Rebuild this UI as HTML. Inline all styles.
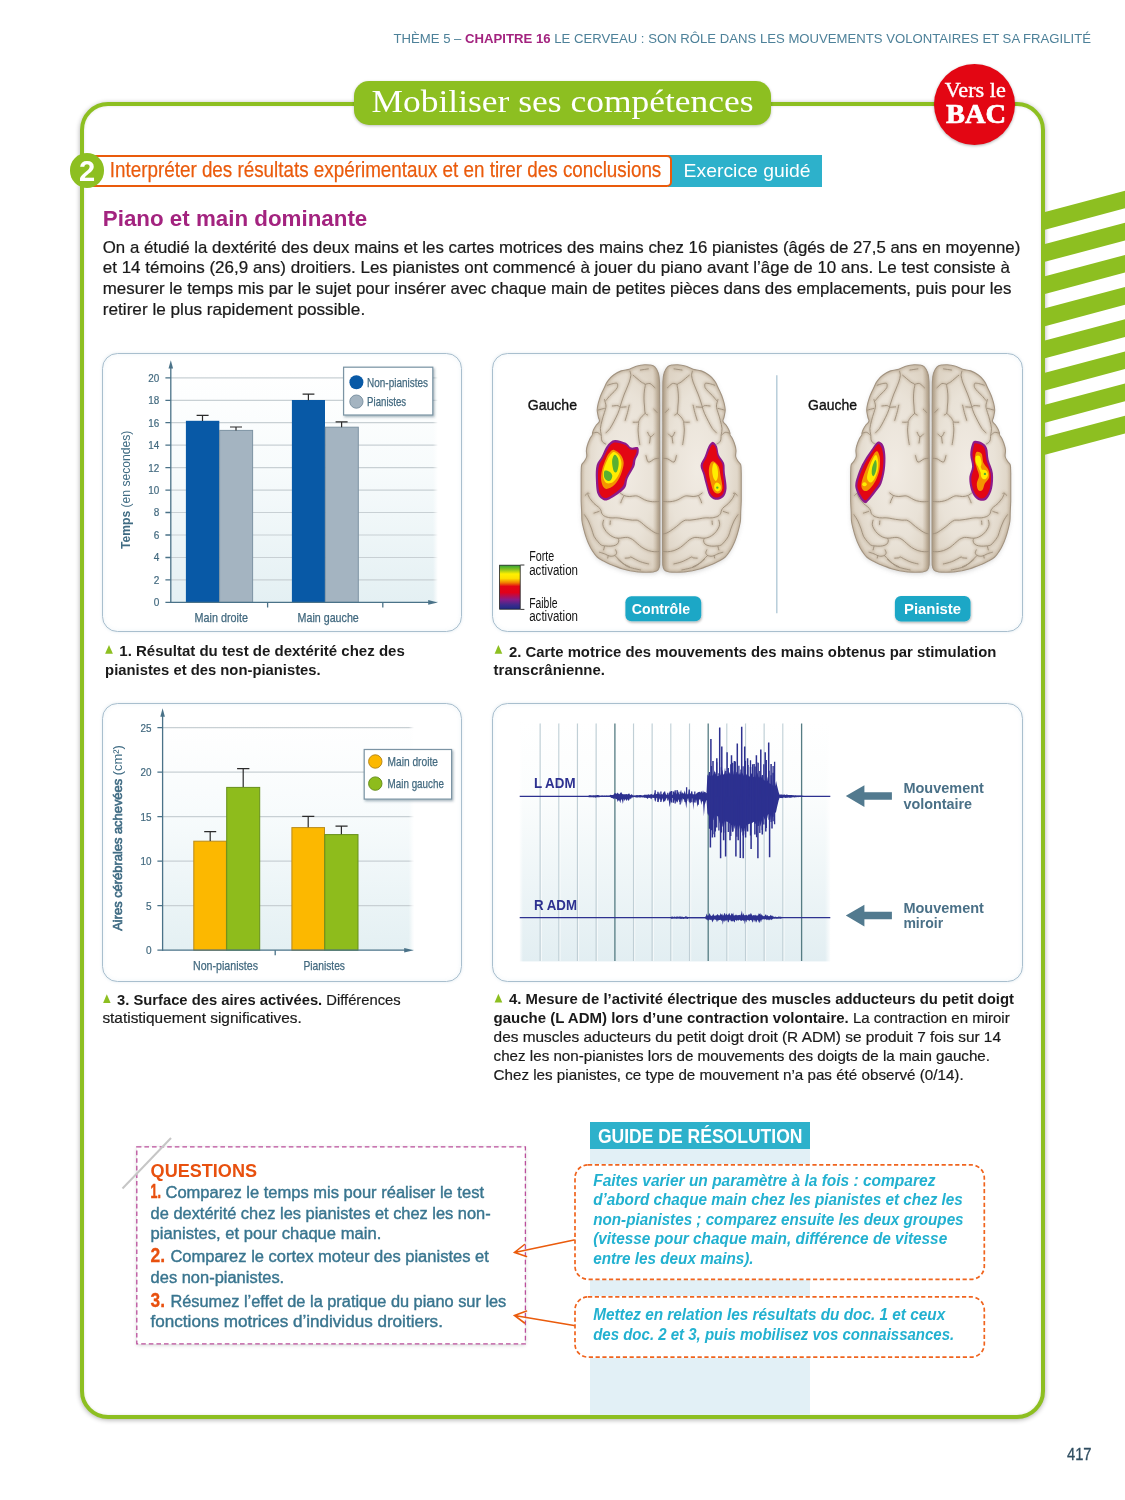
<!DOCTYPE html>
<html lang="fr">
<head>
<meta charset="utf-8">
<title>Mobiliser ses compétences – Piano et main dominante</title>
<style>
html,body{margin:0;padding:0;background:#fff;}
body{width:1125px;height:1500px;overflow:hidden;position:relative;font-family:"Liberation Sans",sans-serif;}
.abs{position:absolute;}
#frame{left:80.2px;top:102.2px;width:956.8px;height:1308.8px;border:4px solid #8dbf21;border-radius:28px;box-shadow:0 1px 5px rgba(0,0,0,.32), inset 0 0 3px rgba(0,0,0,.12);background:#fff;}
.doc{border:1.4px solid #a9bfce;border-radius:15.5px;background:#fff;box-shadow:0 0 3px rgba(120,160,185,.22), inset 0 0 4px rgba(150,190,210,.18);box-sizing:border-box;}
#tab{left:353.5px;top:80.5px;width:417.8px;height:44px;background:#8dbf21;border-radius:15px;box-shadow:0 1px 3px rgba(0,0,0,.25);}
#bac{left:934px;top:64px;width:81px;height:81px;border-radius:50%;background:#e30613;box-shadow:0 1px 3px rgba(0,0,0,.3);}
#obox{left:86px;top:154.6px;width:581.5px;height:28.8px;border:2px solid #ea5b0c;border-radius:5px;background:#fff;}
#tbox{left:668px;top:155px;width:154.3px;height:31.6px;background:#2db1cb;}
#two{left:69.9px;top:153.3px;width:34.6px;height:34.6px;border-radius:50%;background:#8dbf21;}
#qbox{left:136.8px;top:1146.8px;width:388.6px;height:197px;box-shadow:0 1px 4px rgba(0,0,0,.2);background:#fff;box-sizing:border-box;}
#gtitle{left:590px;top:1121.6px;width:220.3px;height:27.5px;background:#2db1cb;}
#gcol{left:590px;top:1149px;width:220.3px;height:266px;background:#e2f0f6;}
.gb{left:574.3px;width:410.6px;border-radius:13px;background:#fff;box-sizing:border-box;}
svg text{font-family:"Liberation Sans",sans-serif;}
svg .serif{font-family:"Liberation Serif",serif;}
</style>
</head>
<body>
<div id="frame" class="abs"></div>
<svg class="abs" style="left:1040px;top:180px" width="85" height="290" viewBox="1040 180 85 290">
<g fill="#8dbf21">
<polygon points="1044,212.2 1125,190.7 1125,208.3 1044,230.0"/>
<polygon points="1044,244.3 1125,222.8 1125,240.4 1044,262.1"/>
<polygon points="1044,276.5 1125,255.0 1125,272.6 1044,294.3"/>
<polygon points="1044,308.6 1125,287.1 1125,304.8 1044,326.4"/>
<polygon points="1044,340.8 1125,319.3 1125,336.9 1044,358.6"/>
<polygon points="1044,372.9 1125,351.4 1125,369.1 1044,390.8"/>
<polygon points="1044,405.1 1125,383.6 1125,401.2 1044,422.9"/>
<polygon points="1044,437.2 1125,415.8 1125,433.4 1044,455.1"/>
</g>
</svg>
<div id="tab" class="abs"></div>
<div id="bac" class="abs"></div>
<div id="tbox" class="abs"></div>
<div id="obox" class="abs"></div>
<div id="two" class="abs"></div>
<div class="abs doc" style="left:102px;top:353.3px;width:360px;height:279px"></div>
<div class="abs doc" style="left:492.4px;top:353.3px;width:531px;height:279px"></div>
<div class="abs doc" style="left:102px;top:703.3px;width:360px;height:278.5px"></div>
<div class="abs doc" style="left:492.4px;top:703.3px;width:531px;height:278.5px"></div>
<div id="gcol" class="abs" style="height:265.5px"></div>
<div id="gtitle" class="abs"></div>
<div class="abs gb" style="top:1164.2px;height:115.6px"></div>
<div class="abs gb" style="top:1296.2px;height:61.4px"></div>
<div id="qbox" class="abs"></div>
<svg class="abs" style="left:0;top:0;opacity:.999" width="1125" height="1500" viewBox="0 0 1125 1500">
<!-- running header -->
<text x="393.5" y="43.2" font-size="13.6" fill="#4d8199" textLength="697.5" lengthAdjust="spacingAndGlyphs">THÈME 5 – <tspan font-weight="bold" fill="#a3237f">CHAPITRE 16</tspan> LE CERVEAU : SON RÔLE DANS LES MOUVEMENTS VOLONTAIRES ET SA FRAGILITÉ</text>
<!-- title tab -->
<text class="serif" x="371.5" y="111.9" font-size="30.5" fill="#fff" textLength="382" lengthAdjust="spacingAndGlyphs">Mobiliser ses compétences</text>
<!-- BAC -->
<text class="serif" x="944.8" y="96.9" font-size="20" fill="#fff" stroke="#fff" stroke-width=".35" textLength="61" lengthAdjust="spacingAndGlyphs">Vers le</text>
<text class="serif" x="946" y="123" font-size="27.5" font-weight="bold" fill="#fff" stroke="#fff" stroke-width=".7" textLength="60" lengthAdjust="spacingAndGlyphs">BAC</text>
<!-- section -->
<text x="78.9" y="181.4" font-size="29" font-weight="bold" fill="#fff" textLength="16.2" lengthAdjust="spacingAndGlyphs">2</text>
<text x="109.8" y="177.3" font-size="22.5" fill="#ea5b0c" stroke="#ea5b0c" stroke-width=".25" textLength="551.5" lengthAdjust="spacingAndGlyphs">Interpréter des résultats expérimentaux et en tirer des conclusions</text>
<text x="683.6" y="177.3" font-size="19" fill="#fff" textLength="127" lengthAdjust="spacingAndGlyphs">Exercice guidé</text>
<!-- title -->
<text x="102.8" y="225.7" font-size="22" font-weight="bold" fill="#a3237f" textLength="264.5" lengthAdjust="spacingAndGlyphs">Piano et main dominante</text>
<!-- intro -->
<g font-size="16.4" fill="#1a1a1a" stroke="#1a1a1a" stroke-width=".22">
<text x="102.8" y="252.6" textLength="917.5" lengthAdjust="spacingAndGlyphs">On a étudié la dextérité des deux mains et les cartes motrices des mains chez 16 pianistes (âgés de 27,5 ans en moyenne)</text>
<text x="102.8" y="273.1" textLength="907.2" lengthAdjust="spacingAndGlyphs">et 14 témoins (26,9 ans) droitiers. Les pianistes ont commencé à jouer du piano avant l’âge de 10 ans. Le test consiste à</text>
<text x="102.8" y="293.6" textLength="908.6" lengthAdjust="spacingAndGlyphs">mesurer le temps mis par le sujet pour insérer avec chaque main de petites pièces dans des emplacements, puis pour les</text>
<text x="102.8" y="314.5" textLength="262.4" lengthAdjust="spacingAndGlyphs">retirer le plus rapidement possible.</text>
</g>
<!-- captions -->
<g fill="#8dbf21">
<polygon points="105.1,653.8 112.9,653.8 109,645"/>
<polygon points="494.6,653.8 502.3,653.8 498.4,645"/>
<polygon points="103.1,1003 110.6,1003 106.8,994.2"/>
<polygon points="494.6,1002.6 502.3,1002.6 498.4,993.8"/>
</g>
<g font-size="15" fill="#1a1a1a" font-weight="bold">
<text x="119.3" y="655.9" textLength="285.5" lengthAdjust="spacingAndGlyphs">1. Résultat du test de dextérité chez des</text>
<text x="105.1" y="674.9" textLength="215.6" lengthAdjust="spacingAndGlyphs">pianistes et des non-pianistes.</text>
<text x="509" y="656.6" textLength="487.3" lengthAdjust="spacingAndGlyphs">2. Carte motrice des mouvements des mains obtenus par stimulation</text>
<text x="493.6" y="674.8" textLength="111.4" lengthAdjust="spacingAndGlyphs">transcrânienne.</text>
<text x="117" y="1004.6" textLength="283.7" lengthAdjust="spacingAndGlyphs">3. Surface des aires activées. <tspan font-weight="normal" stroke="#1a1a1a" stroke-width=".2">Différences</tspan></text>
<text x="102.4" y="1023.2" font-weight="normal" stroke="#1a1a1a" stroke-width=".2" textLength="199.4" lengthAdjust="spacingAndGlyphs">statistiquement significatives.</text>
<text x="509" y="1004.2" textLength="505" lengthAdjust="spacingAndGlyphs">4. Mesure de l’activité électrique des muscles adducteurs du petit doigt</text>
<text x="493.6" y="1023.4" textLength="516.1" lengthAdjust="spacingAndGlyphs">gauche (L ADM) lors d’une contraction volontaire. <tspan font-weight="normal" stroke="#1a1a1a" stroke-width=".2">La contraction en miroir</tspan></text>
<g font-weight="normal" stroke="#1a1a1a" stroke-width=".2">
<text x="493.6" y="1041.8" textLength="507.4" lengthAdjust="spacingAndGlyphs">des muscles aducteurs du petit doigt droit (R ADM) se produit 7 fois sur 14</text>
<text x="493.6" y="1060.9" textLength="496.4" lengthAdjust="spacingAndGlyphs">chez les non-pianistes lors de mouvements des doigts de la main gauche.</text>
<text x="493.6" y="1079.8" textLength="470" lengthAdjust="spacingAndGlyphs">Chez les pianistes, ce type de mouvement n’a pas été observé (0/14).</text>
</g>
</g>
<!-- dashed boxes -->
<rect x="136.8" y="1146.8" width="388.6" height="197" fill="none" stroke="#bb4f9c" stroke-width="1.3" stroke-dasharray="4.6 3"/>
<rect x="575" y="1164.9" width="409.3" height="114.4" rx="13" fill="none" stroke="#f0641e" stroke-width="1.7" stroke-dasharray="4.2 2.6"/>
<rect x="575" y="1296.9" width="409.3" height="60.2" rx="13" fill="none" stroke="#f0641e" stroke-width="1.7" stroke-dasharray="4.2 2.6"/>
<!-- questions -->
<line x1="122.5" y1="1188.5" x2="171" y2="1138" stroke="#c6c6c6" stroke-width="2"/>
<text x="150.6" y="1177" font-size="18.7" font-weight="bold" fill="#e8500e" textLength="106.4" lengthAdjust="spacingAndGlyphs">QUESTIONS</text>
<g font-size="16" fill="#39758f" stroke="#39758f" stroke-width=".4">
<text x="150.6" y="1198.3" font-size="19.5" font-weight="bold" fill="#e8500e" stroke="#e8500e" stroke-width=".55" textLength="10.4" lengthAdjust="spacingAndGlyphs">1.</text>
<text x="165.5" y="1198.3" textLength="318.5" lengthAdjust="spacingAndGlyphs">Comparez le temps mis pour réaliser le test</text>
<text x="150.6" y="1218.8" textLength="340.1" lengthAdjust="spacingAndGlyphs">de dextérité chez les pianistes et chez les non-</text>
<text x="150.6" y="1239" textLength="230.7" lengthAdjust="spacingAndGlyphs">pianistes, et pour chaque main.</text>
<text x="150.6" y="1262.4" font-size="19.5" font-weight="bold" fill="#e8500e" stroke="#e8500e" stroke-width=".3" textLength="14.6" lengthAdjust="spacingAndGlyphs">2.</text>
<text x="170.4" y="1262.4" textLength="318.4" lengthAdjust="spacingAndGlyphs">Comparez le cortex moteur des pianistes et</text>
<text x="150.6" y="1282.9" textLength="133.6" lengthAdjust="spacingAndGlyphs">des non-pianistes.</text>
<text x="150.6" y="1307.2" font-size="19.5" font-weight="bold" fill="#e8500e" stroke="#e8500e" stroke-width=".3" textLength="14.4" lengthAdjust="spacingAndGlyphs">3.</text>
<text x="170.4" y="1307.2" textLength="335.9" lengthAdjust="spacingAndGlyphs">Résumez l’effet de la pratique du piano sur les</text>
<text x="150.6" y="1327" textLength="292.3" lengthAdjust="spacingAndGlyphs">fonctions motrices d’individus droitiers.</text>
</g>
<!-- arrows -->
<g stroke="#ea5b0c" stroke-width="1.6" fill="none" stroke-linecap="round">
<path d="M574,1240 L514.5,1252.5 M524.5,1244.5 L514.5,1252.5 L526.5,1256.5"/>
<path d="M574,1325.5 L514.5,1315.5 M526.5,1311 L514.5,1315.5 L524.5,1323"/>
</g>
<!-- guide -->
<text x="597.9" y="1143.2" font-size="20" font-weight="bold" fill="#fff" textLength="204.6" lengthAdjust="spacingAndGlyphs">GUIDE DE RÉSOLUTION</text>
<g font-size="16" font-weight="bold" font-style="italic" fill="#22b1d0">
<text x="593.2" y="1185.5" textLength="342.2" lengthAdjust="spacingAndGlyphs">Faites varier un paramètre à la fois : comparez</text>
<text x="593.2" y="1205" textLength="369.6" lengthAdjust="spacingAndGlyphs">d’abord chaque main chez les pianistes et chez les</text>
<text x="593.2" y="1224.6" textLength="370.4" lengthAdjust="spacingAndGlyphs">non-pianistes ; comparez ensuite les deux groupes</text>
<text x="593.2" y="1244.1" textLength="354" lengthAdjust="spacingAndGlyphs">(vitesse pour chaque main, différence de vitesse</text>
<text x="593.2" y="1263.7" textLength="160.4" lengthAdjust="spacingAndGlyphs">entre les deux mains).</text>
<text x="593.2" y="1319.9" textLength="352" lengthAdjust="spacingAndGlyphs">Mettez en relation les résultats du doc. 1 et ceux</text>
<text x="593.2" y="1339.8" textLength="361" lengthAdjust="spacingAndGlyphs">des doc. 2 et 3, puis mobilisez vos connaissances.</text>
</g>
<!-- page number -->
<text x="1067" y="1459.5" font-size="16" fill="#2f4d60" stroke="#2f4d60" stroke-width=".3" textLength="24.5" lengthAdjust="spacingAndGlyphs">417</text>
</svg>
<svg class="abs" style="left:0;top:0;opacity:.999" width="1125" height="1500" viewBox="0 0 1125 1500">
<defs>
<linearGradient id="pbg" x1="0" y1="0" x2="0" y2="1"><stop offset="0" stop-color="#ffffff"/><stop offset=".42" stop-color="#f7fbfc"/><stop offset="1" stop-color="#e4f0f3"/></linearGradient>
<linearGradient id="fadeR" x1="0" y1="0" x2="1" y2="0"><stop offset="0" stop-color="#fff" stop-opacity="0"/><stop offset="1" stop-color="#fff" stop-opacity="1"/></linearGradient>
<filter id="lsh" x="-10%" y="-10%" width="130%" height="130%"><feDropShadow dx="1.2" dy="1.5" stdDeviation="1.1" flood-color="#3a5a70" flood-opacity=".45"/></filter>
</defs>
<!-- ===== DOC 1 : bar chart ===== -->
<g id="chart1">
<rect x="170.8" y="372" width="267" height="230.4" fill="url(#pbg)"/>
<g stroke="#c8d0d4" stroke-width="1.2">
<line x1="170.8" y1="377.8" x2="437.8" y2="377.8"/><line x1="170.8" y1="400.3" x2="437.8" y2="400.3"/>
<line x1="170.8" y1="422.7" x2="437.8" y2="422.7"/><line x1="170.8" y1="445.2" x2="437.8" y2="445.2"/>
<line x1="170.8" y1="467.6" x2="437.8" y2="467.6"/><line x1="170.8" y1="490.1" x2="437.8" y2="490.1"/>
<line x1="170.8" y1="512.5" x2="437.8" y2="512.5"/><line x1="170.8" y1="535" x2="437.8" y2="535"/>
<line x1="170.8" y1="557.5" x2="437.8" y2="557.5"/><line x1="170.8" y1="579.9" x2="437.8" y2="579.9"/>
</g>
<rect x="433" y="372" width="5" height="229" fill="url(#fadeR)"/>
<!-- bars -->
<rect x="185.9" y="420.8" width="33.4" height="181.6" fill="#0859a6"/>
<rect x="219.6" y="430.4" width="33" height="172" fill="#a4b4c1" stroke="#7d93a3" stroke-width="1"/>
<rect x="291.9" y="400" width="33.1" height="202.4" fill="#0859a6"/>
<rect x="325.3" y="427.2" width="33" height="175.2" fill="#a4b4c1" stroke="#7d93a3" stroke-width="1"/>
<!-- error bars -->
<g stroke="#2b2b2b" stroke-width="1.2" fill="none">
<path d="M196.6,415.4H208.6M202.5,415.4V421"/>
<path d="M230,427H242M236,427V430.5"/>
<path d="M302.6,394.1H314.4M308.4,394.1V400.2"/>
<path d="M335.6,421.8H347.6M341.6,421.8V427.3"/>
</g>
<!-- axes -->
<g stroke="#4a7288" stroke-width="1.3" fill="none">
<path d="M170.8,603V367"/>
<path d="M165.4,602.4H430"/>
<path d="M165.4,377.8H170.8M165.4,400.3H170.8M165.4,422.7H170.8M165.4,445.2H170.8M165.4,467.6H170.8M165.4,490.1H170.8M165.4,512.5H170.8M165.4,535H170.8M165.4,557.5H170.8M165.4,579.9H170.8"/>
<path d="M267.6,602.4V607.6M382.8,602.4V607.6"/>
</g>
<polygon points="170.8,360.3 168.5,368.6 173.1,368.6" fill="#4a7288"/>
<polygon points="437.8,602.4 428.2,600.1 428.2,604.7" fill="#4a7288"/>
<!-- tick labels -->
<g font-size="11" fill="#42697f" stroke="#42697f" stroke-width=".2" text-anchor="end">
<text x="159.3" y="381.7" textLength="11" lengthAdjust="spacingAndGlyphs">20</text>
<text x="159.3" y="404.2" textLength="11" lengthAdjust="spacingAndGlyphs">18</text>
<text x="159.3" y="426.6" textLength="11" lengthAdjust="spacingAndGlyphs">16</text>
<text x="159.3" y="449.1" textLength="11" lengthAdjust="spacingAndGlyphs">14</text>
<text x="159.3" y="471.5" textLength="11" lengthAdjust="spacingAndGlyphs">12</text>
<text x="159.3" y="494" textLength="11" lengthAdjust="spacingAndGlyphs">10</text>
<text x="159.3" y="516.4" textLength="5.6" lengthAdjust="spacingAndGlyphs">8</text>
<text x="159.3" y="538.9" textLength="5.6" lengthAdjust="spacingAndGlyphs">6</text>
<text x="159.3" y="561.4" textLength="5.6" lengthAdjust="spacingAndGlyphs">4</text>
<text x="159.3" y="583.8" textLength="5.6" lengthAdjust="spacingAndGlyphs">2</text>
<text x="159.3" y="606.3" textLength="5.6" lengthAdjust="spacingAndGlyphs">0</text>
</g>
<g font-size="12.6" fill="#42697f" stroke="#42697f" stroke-width=".25">
<text x="194.6" y="622.2" textLength="53.4" lengthAdjust="spacingAndGlyphs">Main droite</text>
<text x="297.6" y="622.2" textLength="61.2" lengthAdjust="spacingAndGlyphs">Main gauche</text>
</g>
<text transform="translate(130.4,549) rotate(-90)" font-size="13.6" fill="#3f6b83" textLength="118.3" lengthAdjust="spacingAndGlyphs"><tspan font-weight="bold">Temps</tspan> (en secondes)</text>
<!-- legend -->
<rect x="343.6" y="367.2" width="89.2" height="47.8" fill="#fff" stroke="#7b94a4" stroke-width="1.2" filter="url(#lsh)"/>
<circle cx="356.4" cy="382.2" r="7" fill="#0859a6"/>
<circle cx="356.4" cy="401.6" r="6.6" fill="#a4b4c1" stroke="#7d93a3" stroke-width="1"/>
<g font-size="12.4" fill="#42697f" stroke="#42697f" stroke-width=".25">
<text x="367.1" y="387" textLength="60.8" lengthAdjust="spacingAndGlyphs">Non-pianistes</text>
<text x="367.1" y="406" textLength="39.1" lengthAdjust="spacingAndGlyphs">Pianistes</text>
</g>
</g>
<!-- ===== DOC 3 : bar chart ===== -->
<g id="chart3">
<rect x="162.6" y="720" width="251" height="230.2" fill="url(#pbg)"/>
<g stroke="#c8d0d4" stroke-width="1.2">
<line x1="162.6" y1="727.6" x2="413.4" y2="727.6"/><line x1="162.6" y1="772.2" x2="413.4" y2="772.2"/>
<line x1="162.6" y1="816.7" x2="413.4" y2="816.7"/><line x1="162.6" y1="861.2" x2="413.4" y2="861.2"/>
<line x1="162.6" y1="905.7" x2="413.4" y2="905.7"/>
</g>
<rect x="408.8" y="720" width="5" height="229" fill="url(#fadeR)"/>
<rect x="193.8" y="841.2" width="32.6" height="109" fill="#fcb800" stroke="#b98a1a" stroke-width="1"/>
<rect x="226.7" y="787.4" width="33" height="162.8" fill="#8ebc1c" stroke="#67901a" stroke-width="1"/>
<rect x="291.9" y="827.6" width="32.6" height="122.6" fill="#fcb800" stroke="#b98a1a" stroke-width="1"/>
<rect x="324.8" y="834.6" width="33.2" height="115.6" fill="#8ebc1c" stroke="#67901a" stroke-width="1"/>
<g stroke="#2b2b2b" stroke-width="1.2" fill="none">
<path d="M204.2,831.6H216.2M210.2,831.6V841"/>
<path d="M237.1,768.6H249.4M243.2,768.6V787"/>
<path d="M302.2,816.3H314.3M308.2,816.3V827.3"/>
<path d="M335.5,826.1H347.6M341.4,826.1V834.3"/>
</g>
<g stroke="#4a7288" stroke-width="1.3" fill="none">
<path d="M162.6,950.8V715"/>
<path d="M157.4,950.2H406"/>
<path d="M157.4,727.6H162.6M157.4,772.2H162.6M157.4,816.7H162.6M157.4,861.2H162.6M157.4,905.7H162.6"/>
<path d="M275.2,950.2V955.2"/>
</g>
<polygon points="162.6,708.2 160.3,716.8 164.9,716.8" fill="#4a7288"/>
<polygon points="413.8,950.2 404.2,947.9 404.2,952.5" fill="#4a7288"/>
<g font-size="11.3" fill="#42697f" stroke="#42697f" stroke-width=".2" text-anchor="end">
<text x="151.6" y="731.5" textLength="11" lengthAdjust="spacingAndGlyphs">25</text>
<text x="151.6" y="776.1" textLength="11" lengthAdjust="spacingAndGlyphs">20</text>
<text x="151.6" y="820.6" textLength="11" lengthAdjust="spacingAndGlyphs">15</text>
<text x="151.6" y="865.1" textLength="11" lengthAdjust="spacingAndGlyphs">10</text>
<text x="151.6" y="909.6" textLength="5.6" lengthAdjust="spacingAndGlyphs">5</text>
<text x="151.6" y="954.1" textLength="5.6" lengthAdjust="spacingAndGlyphs">0</text>
</g>
<g font-size="12.6" fill="#42697f" stroke="#42697f" stroke-width=".25">
<text x="193" y="970" textLength="65" lengthAdjust="spacingAndGlyphs">Non-pianistes</text>
<text x="303.4" y="970" textLength="41.6" lengthAdjust="spacingAndGlyphs">Pianistes</text>
</g>
<text transform="translate(122.2,930.8) rotate(-90)" font-size="13.2" fill="#3f6b83" textLength="185.6" lengthAdjust="spacingAndGlyphs"><tspan stroke="#3f6b83" stroke-width=".6">Aires cérébrales achevées</tspan> (cm²)</text>
<rect x="364.2" y="749.5" width="87.4" height="49.6" fill="#fff" stroke="#7b94a4" stroke-width="1.2" filter="url(#lsh)"/>
<circle cx="375.3" cy="761.5" r="6.7" fill="#fcb800" stroke="#b98a1a" stroke-width="1"/>
<circle cx="375.3" cy="783.6" r="6.7" fill="#8ebc1c" stroke="#67901a" stroke-width="1"/>
<g font-size="13" fill="#42697f" stroke="#42697f" stroke-width=".25">
<text x="387.6" y="766.3" textLength="50.3" lengthAdjust="spacingAndGlyphs">Main droite</text>
<text x="387.6" y="788.2" textLength="56.3" lengthAdjust="spacingAndGlyphs">Main gauche</text>
</g>
</g>
<!-- ===== DOC 4 : EMG ===== -->
<g id="emg">
<defs><linearGradient id="ebg" x1="0" y1="0" x2="0" y2="1"><stop offset="0" stop-color="#fff"/><stop offset=".3" stop-color="#fbfdfd"/><stop offset="1" stop-color="#e2eef2"/></linearGradient><linearGradient id="fadeL" x1="0" y1="0" x2="1" y2="0"><stop offset="0" stop-color="#fff" stop-opacity="1"/><stop offset="1" stop-color="#fff" stop-opacity="0"/></linearGradient></defs>
<rect x="519.7" y="722.3" width="310.6" height="239.1" fill="url(#ebg)"/>
<rect x="825" y="722" width="6" height="240" fill="url(#fadeR)"/><rect x="519" y="722" width="4" height="240" fill="url(#fadeL)"/>
<path d="M540.2,723.5V961M558.9,723.5V961M577.5,723.5V961M596.2,723.5V961M633.6,723.5V961M652.2,723.5V961M670.9,723.5V961M689.6,723.5V961M726.9,723.5V961M745.6,723.5V961M764.2,723.5V961M782.9,723.5V961" stroke="#c0cfd6" stroke-width="1.3" fill="none"/>
<path d="M541.3,723.5V961M560.0,723.5V961M578.6,723.5V961M597.3,723.5V961M634.7,723.5V961M653.3,723.5V961M672.0,723.5V961M690.7,723.5V961M728.0,723.5V961M746.7,723.5V961M765.3,723.5V961M784.0,723.5V961" stroke="#fff" stroke-width=".9" stroke-opacity=".8" fill="none"/>
<path d="M614.9,723.5V961M708.2,723.5V961M801.6,723.5V961" stroke="#557c83" stroke-width="1.3" fill="none"/>
<path d="M519.7,796.3H830.3M519.7,917.7H830.3" stroke="#2d3190" stroke-width="1.3" fill="none"/>
<path d="M588.6,795.4 589.5,795.2 590.4,795.3 591.3,795.4 592.1,795.4 593.0,795.4 593.9,795.3 594.8,795.4 595.7,795.2 596.5,795.2 597.4,794.9 598.3,795.0 599.2,795.4 600.1,795.7 600.9,795.7 601.8,795.6 602.7,795.6 603.6,795.7 604.5,795.6 605.3,795.7 606.2,795.6 607.1,795.5 608.0,795.7 608.9,795.6 609.7,795.5 610.6,794.8 611.5,795.1 612.4,795.1 613.3,795.0 614.1,793.7 615.0,793.0 615.9,793.4 616.8,793.7 617.7,792.4 618.5,793.7 619.4,794.3 620.3,792.9 621.2,792.0 622.1,793.8 622.9,794.2 623.8,794.2 624.7,794.3 625.6,794.3 626.5,794.1 627.3,794.5 628.2,794.0 629.1,793.3 630.0,794.8 630.9,794.9 631.7,794.1 632.6,795.3 633.5,795.5 634.4,795.6 635.3,795.4 636.1,795.3 637.0,794.9 637.9,795.3 638.8,795.2 639.7,794.9 640.5,795.0 641.4,795.3 642.3,795.4 643.2,795.4 644.1,794.8 644.9,794.7 645.8,794.8 646.7,794.8 647.6,794.8 648.5,794.3 649.3,794.7 650.2,794.7 651.1,793.8 652.0,794.5 652.9,794.8 653.7,794.7 654.6,792.3 655.5,794.8 656.4,793.9 657.3,793.8 658.1,793.9 659.0,792.1 659.9,794.6 660.8,794.7 661.7,793.9 662.5,794.5 663.4,792.4 664.3,792.1 665.2,792.4 666.1,794.7 666.9,794.4 667.8,794.8 668.7,794.6 669.6,791.4 670.5,791.5 671.3,791.4 672.2,794.7 673.1,794.7 674.0,793.5 674.9,790.9 675.7,792.5 676.6,794.5 677.5,790.2 678.4,791.7 679.3,794.4 680.1,794.1 681.0,789.6 681.9,793.8 682.8,791.9 683.7,794.5 684.5,790.3 685.4,794.4 686.3,789.5 687.2,794.0 688.1,794.5 688.9,789.6 689.8,793.2 690.7,793.7 691.6,791.1 692.5,794.3 693.3,794.3 694.2,794.3 695.1,794.5 696.0,794.0 696.9,792.9 697.7,792.4 698.6,791.9 699.5,791.8 700.4,792.3 701.3,793.4 702.1,793.2 703.0,790.2 703.9,792.8 704.8,791.6 705.7,793.3 706.5,793.1 707.4,774.3 708.3,776.2 709.2,771.9 710.1,775.4 710.9,776.0 711.8,776.2 712.7,775.8 713.6,773.6 714.5,770.2 715.3,774.6 716.2,771.3 717.1,776.3 718.0,776.1 718.9,776.0 719.7,771.4 720.6,775.5 721.5,772.5 722.4,769.6 723.3,775.0 724.1,774.1 725.0,767.6 725.9,774.8 726.8,773.1 727.7,774.6 728.5,771.0 729.4,772.6 730.3,774.6 731.2,771.9 732.1,774.6 732.9,770.1 733.8,774.5 734.7,774.6 735.6,774.2 736.5,773.5 737.3,769.8 738.2,774.7 739.1,772.7 740.0,774.9 740.9,771.7 741.7,775.2 742.6,772.5 743.5,775.4 744.4,775.6 745.3,774.4 746.1,773.8 747.0,775.6 747.9,774.4 748.8,776.3 749.7,776.6 750.5,776.2 751.4,772.8 752.3,775.5 753.2,776.7 754.1,777.2 754.9,774.0 755.8,777.8 756.7,771.7 757.6,773.6 758.5,777.1 759.3,777.7 760.2,775.3 761.1,778.0 762.0,775.2 762.9,778.3 763.7,779.9 764.6,780.5 765.5,780.7 766.4,781.6 767.3,776.6 768.1,782.3 769.0,782.8 769.9,783.8 770.8,784.1 771.7,777.9 772.5,785.3 773.4,785.6 774.3,786.7 775.2,785.8 776.1,781.1 776.9,784.9 777.8,788.6 778.7,792.3 779.6,794.8 780.5,794.6 781.3,794.5 782.2,794.6 783.1,794.9 784.0,794.3 784.9,794.7 785.7,795.1 786.6,794.6 787.5,794.8 788.4,795.1 789.3,795.1 790.1,794.9 791.0,795.1 791.9,795.1 792.8,795.3 793.7,795.3 794.5,795.4 795.4,795.3 796.3,795.4 797.2,795.4 798.1,795.4 798.9,795.5 799.8,795.5 800.7,795.6 801.6,795.6 802.5,795.7 803.3,795.7 803.3,796.9 802.5,796.9 801.6,797.0 800.7,797.0 799.8,797.0 798.9,797.1 798.1,797.2 797.2,797.1 796.3,797.3 795.4,797.3 794.5,797.4 793.7,797.3 792.8,797.3 791.9,797.5 791.0,797.7 790.1,797.7 789.3,797.8 788.4,797.6 787.5,797.8 786.6,797.7 785.7,798.0 784.9,797.8 784.0,797.6 783.1,797.7 782.2,798.3 781.3,798.0 780.5,797.9 779.6,797.8 778.7,800.3 777.8,804.1 776.9,807.8 776.1,811.8 775.2,812.9 774.3,812.2 773.4,812.3 772.5,819.8 771.7,814.3 770.8,820.5 769.9,814.3 769.0,814.8 768.1,814.0 767.3,817.8 766.4,820.6 765.5,815.3 764.6,820.2 763.7,816.3 762.9,817.6 762.0,820.5 761.1,823.6 760.2,826.7 759.3,820.8 758.5,825.2 757.6,821.2 756.7,820.4 755.8,822.5 754.9,823.6 754.1,821.7 753.2,822.1 752.3,822.7 751.4,823.5 750.5,823.9 749.7,823.8 748.8,824.0 747.9,824.5 747.0,824.4 746.1,832.0 745.3,825.5 744.4,831.2 743.5,831.2 742.6,830.4 741.7,832.7 740.9,826.4 740.0,825.0 739.1,829.0 738.2,832.2 737.3,825.2 736.5,831.7 735.6,824.4 734.7,829.2 733.8,824.3 732.9,831.8 732.1,831.7 731.2,824.9 730.3,823.3 729.4,823.6 728.5,821.7 727.7,822.0 726.8,821.6 725.9,821.7 725.0,825.7 724.1,821.1 723.3,826.7 722.4,826.5 721.5,817.9 720.6,821.4 719.7,823.6 718.9,819.8 718.0,816.0 717.1,816.6 716.2,814.7 715.3,821.9 714.5,814.1 713.6,819.8 712.7,820.5 711.8,814.6 710.9,815.9 710.1,813.6 709.2,812.9 708.3,816.0 707.4,813.0 706.5,799.8 705.7,801.9 704.8,804.7 703.9,816.3 703.0,801.8 702.1,801.1 701.3,805.0 700.4,799.5 699.5,799.2 698.6,801.6 697.7,807.0 696.9,803.2 696.0,799.2 695.1,803.3 694.2,799.0 693.3,810.1 692.5,798.5 691.6,798.3 690.7,802.8 689.8,803.6 688.9,800.6 688.1,798.1 687.2,799.8 686.3,808.6 685.4,802.3 684.5,802.1 683.7,798.2 682.8,798.2 681.9,803.8 681.0,798.9 680.1,802.0 679.3,801.9 678.4,799.3 677.5,801.8 676.6,800.7 675.7,802.0 674.9,799.4 674.0,801.7 673.1,797.9 672.2,798.0 671.3,798.3 670.5,802.5 669.6,807.2 668.7,800.0 667.8,798.1 666.9,797.8 666.1,799.0 665.2,800.4 664.3,800.9 663.4,802.6 662.5,798.0 661.7,800.7 660.8,800.6 659.9,798.3 659.0,800.0 658.1,802.5 657.3,797.8 656.4,797.9 655.5,802.2 654.6,797.9 653.7,797.9 652.9,797.8 652.0,798.1 651.1,799.5 650.2,797.8 649.3,798.0 648.5,797.8 647.6,799.1 646.7,798.0 645.8,797.8 644.9,797.8 644.1,797.8 643.2,797.2 642.3,797.4 641.4,797.3 640.5,797.6 639.7,797.5 638.8,797.2 637.9,797.4 637.0,797.5 636.1,797.4 635.3,797.3 634.4,797.0 633.5,797.3 632.6,797.4 631.7,797.5 630.9,799.3 630.0,798.2 629.1,800.2 628.2,800.7 627.3,798.9 626.5,801.3 625.6,798.7 624.7,801.0 623.8,798.7 622.9,803.9 622.1,800.6 621.2,798.9 620.3,803.2 619.4,800.6 618.5,800.3 617.7,802.0 616.8,799.0 615.9,799.3 615.0,798.3 614.1,798.7 613.3,798.7 612.4,798.0 611.5,798.1 610.6,797.2 609.7,797.0 608.9,797.1 608.0,797.0 607.1,797.0 606.2,796.9 605.3,797.0 604.5,796.9 603.6,796.9 602.7,796.9 601.8,796.9 600.9,797.0 600.1,797.1 599.2,797.2 598.3,797.2 597.4,797.2 596.5,797.3 595.7,797.7 594.8,797.2 593.9,797.6 593.0,797.2 592.1,797.3 591.3,797.3 590.4,797.3 589.5,797.2 588.6,797.2Z" fill="#2d3190"/>
<path d="M670.8,916.8 671.5,916.8 672.2,916.5 673.0,916.7 673.7,916.9 674.4,916.6 675.2,916.7 675.9,917.0 676.6,916.6 677.4,916.6 678.1,916.8 678.8,916.8 679.6,916.4 680.3,916.3 681.0,917.0 681.8,916.5 682.5,916.8 683.2,916.9 684.0,916.9 684.7,916.9 685.4,916.3 686.2,916.5 686.9,916.4 687.6,916.9 688.4,917.1 689.1,917.1 689.8,917.1 690.6,917.1 691.3,917.1 692.0,917.1 692.8,917.1 693.5,917.1 694.2,917.1 695.0,917.1 695.7,917.1 696.4,917.1 697.2,917.1 697.9,917.1 698.6,917.1 699.4,917.1 700.1,917.1 700.8,917.1 701.6,917.1 702.3,917.1 703.0,917.1 703.8,917.1 704.5,917.1 705.2,917.1 706.0,915.7 706.7,913.4 707.4,915.4 708.2,915.7 708.9,914.8 709.6,913.0 710.4,915.1 711.1,915.9 711.8,915.8 712.6,915.3 713.3,913.6 714.0,915.4 714.8,915.8 715.5,915.4 716.2,915.5 717.0,914.8 717.7,914.1 718.4,915.2 719.2,915.3 719.9,915.6 720.6,912.9 721.4,915.0 722.1,913.5 722.8,915.5 723.6,915.2 724.3,913.0 725.0,913.5 725.8,915.6 726.5,913.3 727.2,914.7 728.0,915.3 728.7,913.7 729.4,912.9 730.2,915.6 730.9,914.9 731.6,913.1 732.4,914.5 733.1,912.4 733.8,915.6 734.6,915.5 735.3,914.5 736.0,915.6 736.8,914.5 737.5,915.6 738.2,914.9 739.0,915.3 739.7,914.7 740.4,915.4 741.2,913.6 741.9,910.6 742.6,915.5 743.4,912.9 744.1,915.4 744.8,915.0 745.6,915.2 746.3,914.4 747.0,915.5 747.8,915.4 748.5,914.4 749.2,913.9 750.0,915.0 750.7,912.9 751.4,913.7 752.2,915.5 752.9,915.4 753.6,915.0 754.4,915.5 755.1,914.4 755.8,915.6 756.6,915.5 757.3,915.6 758.0,915.6 758.8,913.3 759.5,914.2 760.2,913.1 761.0,915.6 761.7,914.1 762.4,915.5 763.2,916.0 763.9,916.2 764.6,916.1 765.4,914.6 766.1,914.6 766.8,916.0 767.6,915.1 768.3,916.2 769.0,916.0 769.8,916.2 770.5,914.8 771.2,916.0 772.0,915.2 772.7,916.2 773.4,916.6 774.2,916.7 774.9,916.9 775.6,916.6 776.4,916.9 777.1,916.9 777.8,917.0 778.6,916.6 779.3,916.6 780.0,916.9 780.8,916.6 781.5,917.1 782.2,917.1 782.2,918.3 781.5,918.3 780.8,918.8 780.0,918.5 779.3,918.4 778.6,918.6 777.8,918.7 777.1,918.5 776.4,918.7 775.6,918.6 774.9,918.5 774.2,918.8 773.4,918.5 772.7,919.2 772.0,919.2 771.2,920.3 770.5,919.2 769.8,919.4 769.0,920.6 768.3,919.5 767.6,919.5 766.8,920.3 766.1,919.2 765.4,919.2 764.6,919.4 763.9,919.2 763.2,919.3 762.4,919.4 761.7,919.8 761.0,922.6 760.2,920.0 759.5,923.0 758.8,922.2 758.0,920.2 757.3,919.8 756.6,922.8 755.8,920.2 755.1,922.6 754.4,920.2 753.6,919.8 752.9,922.7 752.2,921.5 751.4,919.9 750.7,920.0 750.0,919.9 749.2,921.4 748.5,919.9 747.8,920.2 747.0,919.8 746.3,922.5 745.6,919.9 744.8,924.2 744.1,919.8 743.4,921.3 742.6,919.9 741.9,920.4 741.2,921.0 740.4,920.4 739.7,919.8 739.0,919.9 738.2,920.8 737.5,919.8 736.8,921.2 736.0,919.9 735.3,920.0 734.6,922.5 733.8,921.6 733.1,920.6 732.4,921.6 731.6,921.3 730.9,921.2 730.2,919.8 729.4,919.9 728.7,922.1 728.0,922.5 727.2,919.8 726.5,920.4 725.8,921.3 725.0,919.8 724.3,922.0 723.6,920.3 722.8,924.8 722.1,919.9 721.4,920.9 720.6,919.8 719.9,920.0 719.2,920.1 718.4,920.5 717.7,920.2 717.0,922.2 716.2,919.9 715.5,919.8 714.8,919.5 714.0,919.5 713.3,920.6 712.6,922.4 711.8,920.6 711.1,919.5 710.4,919.9 709.6,919.7 708.9,919.6 708.2,921.0 707.4,919.8 706.7,919.5 706.0,919.5 705.2,918.3 704.5,918.3 703.8,918.3 703.0,918.3 702.3,918.3 701.6,918.3 700.8,918.3 700.1,918.3 699.4,918.3 698.6,918.3 697.9,918.3 697.2,918.3 696.4,918.3 695.7,918.3 695.0,918.3 694.2,918.3 693.5,918.3 692.8,918.3 692.0,918.3 691.3,918.3 690.6,918.3 689.8,918.3 689.1,918.3 688.4,918.3 687.6,919.0 686.9,918.8 686.2,918.6 685.4,918.5 684.7,918.6 684.0,918.7 683.2,919.1 682.5,918.5 681.8,919.1 681.0,918.6 680.3,919.1 679.6,918.5 678.8,918.5 678.1,918.6 677.4,918.5 676.6,918.8 675.9,918.5 675.2,918.4 674.4,918.5 673.7,918.5 673.0,918.4 672.2,918.7 671.5,918.8 670.8,918.5Z" fill="#2d3190"/>
<path d="M710.9,739.1V796.3M713.0,761.1V796.3M716.8,758.2V796.3M719.7,727.4V796.3M721.8,746.4V796.3M727.1,752.3V796.3M731.5,755.2V796.3M734.4,761.1V796.3M737.3,743.5V796.3M741.7,726.8V796.3M744.7,746.4V796.3M747.6,758.2V796.3M750.5,767.0V796.3M754.1,764.0V796.3M756.4,755.2V796.3M760.8,749.4V796.3M765.2,752.3V796.3M768.7,742.6V796.3M771.1,764.0V796.3M773.1,772.8V796.3M710.4,847.6V796.3M712.4,837.4V796.3M715.3,831.5V796.3M720.6,858.2V796.3M723.6,840.3V796.3M725.6,856.4V796.3M730.0,840.3V796.3M732.9,831.5V796.3M735.9,856.4V796.3M738.2,840.3V796.3M740.3,857.9V796.3M743.2,858.2V796.3M745.6,837.4V796.3M747.6,831.5V796.3M751.1,849.1V796.3M754.9,834.4V796.3M757.9,858.2V796.3M762.3,834.4V796.3M765.8,831.5V796.3M769.6,857.3V796.3M772.0,828.6V796.3M774.0,816.8V796.3" stroke="#2d3190" stroke-width="1.5" fill="none"/>
<path d="M709.5,771.9V828.7M711.4,766.0V830.2M712.9,775.6V834.3M714.7,772.0V837.3M716.7,762.3V827.4M718.9,773.3V830.4M721.4,767.3V832.4M723.7,774.7V832.8M725.8,770.9V818.9M728.3,768.1V832.0M730.8,764.2V835.9M732.7,762.8V826.8M735.3,761.6V820.2M736.9,772.3V836.7M738.9,765.7V824.0M741.0,769.5V825.0M743.1,766.3V835.5M745.4,760.8V834.6M748.0,764.9V821.4M750.5,760.2V835.6M752.6,764.2V822.3M755.1,766.5V823.7M756.6,762.0V837.2M758.2,762.8V826.1M759.8,771.0V833.0M762.3,775.1V830.0M763.8,764.2V824.6M766.3,759.9V827.9M769.0,770.8V819.8M771.1,775.3V822.1M773.1,765.9V821.3M774.6,761.8V824.3M655.2,790.3V800.4M657.9,791.7V801.9M660.9,791.4V802.0M664.6,791.4V801.2M667.8,792.7V800.6M671.6,791.0V802.5M673.4,791.6V802.8M675.2,790.3V803.4M677.1,790.1V802.2M680.2,791.7V804.4M683.5,793.8V799.2M686.6,787.2V800.9M689.3,789.6V801.7M691.8,791.6V802.3M694.8,791.6V802.5M698.2,793.7V804.7M701.4,791.4V801.1M704.9,791.9V800.8" stroke="#2d3190" stroke-width="1.3" fill="none"/>
</g>
<g id="emglabels">
<g font-size="14.5" font-weight="bold" fill="#2d3190">
<text x="534" y="788" textLength="41.5" lengthAdjust="spacingAndGlyphs">L ADM</text>
<text x="534" y="910.2" textLength="43" lengthAdjust="spacingAndGlyphs">R ADM</text>
</g>
<g fill="#527a8f">
<polygon points="845.8,795.9 864.4,785.2 864.4,792.3 891.9,792.3 891.9,799.8 864.4,799.8 864.4,807"/>
<polygon points="845.8,915.4 864.4,904.7 864.4,911.8 891.9,911.8 891.9,919.3 864.4,919.3 864.4,926.5"/>
</g>
<g font-size="14" font-weight="bold" fill="#4a7087">
<text x="903.4" y="793.2" textLength="80.5" lengthAdjust="spacingAndGlyphs">Mouvement</text>
<text x="903.4" y="808.5" textLength="68.7" lengthAdjust="spacingAndGlyphs">volontaire</text>
<text x="903.4" y="912.7" textLength="80.5" lengthAdjust="spacingAndGlyphs">Mouvement</text>
<text x="903.4" y="928" textLength="39.8" lengthAdjust="spacingAndGlyphs">miroir</text>
</g>
</g>
<!-- ===== DOC 2 : brains ===== -->
<defs>
<radialGradient id="bg1" cx=".56" cy=".5" r=".66"><stop offset="0" stop-color="#f1ebe3"/><stop offset=".55" stop-color="#e9e2d7"/><stop offset="1" stop-color="#d8ccbb"/></radialGradient>
<linearGradient id="med" x1="0" y1="0" x2="1" y2="0"><stop offset="0" stop-color="#b9a891" stop-opacity="0"/><stop offset="1" stop-color="#ab9a83" stop-opacity=".95"/></linearGradient>
<filter id="bsh" x="-15%" y="-10%" width="130%" height="120%"><feGaussianBlur stdDeviation="16"/></filter>
<filter id="sbl" x="-5%" y="-5%" width="110%" height="110%"><feGaussianBlur stdDeviation="7"/></filter>
<clipPath id="hclip"><path d="M530,160C528,128 528,123 523,108C519,93 510,78 502,70C494,62 484,61 474,59C463,58 453,57 441,58C428,59 413,61 398,65C383,70 366,79 351,84C335,89 319,88 303,94C287,100 269,109 256,120C242,130 231,143 223,155C214,167 210,179 204,193C197,207 188,225 182,240C176,255 172,269 168,283C165,297 161,311 161,326C161,340 166,357 168,368C170,380 177,384 174,393C172,402 158,410 152,420C145,431 138,445 135,454C132,462 134,466 132,473C129,481 123,485 118,496C113,507 105,527 102,539C98,551 98,557 97,567C97,578 101,591 99,601C97,612 90,621 85,629C80,637 72,640 69,651C66,663 67,683 66,699C66,714 66,718 66,746C66,774 66,834 66,864C67,894 68,906 69,926C70,946 69,966 71,983C73,1000 77,1014 81,1030C85,1046 89,1062 95,1078C100,1093 107,1111 114,1125C120,1139 127,1151 135,1163C143,1175 150,1187 161,1196C172,1206 186,1213 199,1220C212,1227 224,1233 237,1239C250,1244 262,1248 275,1253C287,1258 299,1263 313,1267C326,1271 340,1274 355,1277C370,1279 387,1282 403,1284C418,1285 435,1286 450,1286C465,1286 481,1286 493,1284C505,1281 515,1279 521,1272C527,1265 529,1260 531,1243C532,1227 531,1224 532,1172C532,1121 532,1022 532,936C532,849 532,725 532,651C531,577 531,550 531,492C530,433 531,357 531,302C530,247 531,192 530,160Z"/></clipPath>
<g id="hemi">
<path d="M530,160C528,128 528,123 523,108C519,93 510,78 502,70C494,62 484,61 474,59C463,58 453,57 441,58C428,59 413,61 398,65C383,70 366,79 351,84C335,89 319,88 303,94C287,100 269,109 256,120C242,130 231,143 223,155C214,167 210,179 204,193C197,207 188,225 182,240C176,255 172,269 168,283C165,297 161,311 161,326C161,340 166,357 168,368C170,380 177,384 174,393C172,402 158,410 152,420C145,431 138,445 135,454C132,462 134,466 132,473C129,481 123,485 118,496C113,507 105,527 102,539C98,551 98,557 97,567C97,578 101,591 99,601C97,612 90,621 85,629C80,637 72,640 69,651C66,663 67,683 66,699C66,714 66,718 66,746C66,774 66,834 66,864C67,894 68,906 69,926C70,946 69,966 71,983C73,1000 77,1014 81,1030C85,1046 89,1062 95,1078C100,1093 107,1111 114,1125C120,1139 127,1151 135,1163C143,1175 150,1187 161,1196C172,1206 186,1213 199,1220C212,1227 224,1233 237,1239C250,1244 262,1248 275,1253C287,1258 299,1263 313,1267C326,1271 340,1274 355,1277C370,1279 387,1282 403,1284C418,1285 435,1286 450,1286C465,1286 481,1286 493,1284C505,1281 515,1279 521,1272C527,1265 529,1260 531,1243C532,1227 531,1224 532,1172C532,1121 532,1022 532,936C532,849 532,725 532,651C531,577 531,550 531,492C530,433 531,357 531,302C530,247 531,192 530,160Z" fill="#8e8e8e" opacity=".42" filter="url(#bsh)" transform="translate(5,9)"/>
<path d="M530,160C528,128 528,123 523,108C519,93 510,78 502,70C494,62 484,61 474,59C463,58 453,57 441,58C428,59 413,61 398,65C383,70 366,79 351,84C335,89 319,88 303,94C287,100 269,109 256,120C242,130 231,143 223,155C214,167 210,179 204,193C197,207 188,225 182,240C176,255 172,269 168,283C165,297 161,311 161,326C161,340 166,357 168,368C170,380 177,384 174,393C172,402 158,410 152,420C145,431 138,445 135,454C132,462 134,466 132,473C129,481 123,485 118,496C113,507 105,527 102,539C98,551 98,557 97,567C97,578 101,591 99,601C97,612 90,621 85,629C80,637 72,640 69,651C66,663 67,683 66,699C66,714 66,718 66,746C66,774 66,834 66,864C67,894 68,906 69,926C70,946 69,966 71,983C73,1000 77,1014 81,1030C85,1046 89,1062 95,1078C100,1093 107,1111 114,1125C120,1139 127,1151 135,1163C143,1175 150,1187 161,1196C172,1206 186,1213 199,1220C212,1227 224,1233 237,1239C250,1244 262,1248 275,1253C287,1258 299,1263 313,1267C326,1271 340,1274 355,1277C370,1279 387,1282 403,1284C418,1285 435,1286 450,1286C465,1286 481,1286 493,1284C505,1281 515,1279 521,1272C527,1265 529,1260 531,1243C532,1227 531,1224 532,1172C532,1121 532,1022 532,936C532,849 532,725 532,651C531,577 531,550 531,492C530,433 531,357 531,302C530,247 531,192 530,160Z" fill="url(#bg1)"/>
<g clip-path="url(#hclip)">
<path d="M355,96C356,100 361,111 360,122C359,133 355,146 351,160C346,174 338,191 332,207C325,223 318,239 313,255C307,270 303,287 298,302C294,317 291,330 284,345C278,360 268,377 261,392C253,407 245,423 237,435C229,446 217,456 213,461M374,120C382,126 410,151 422,160C433,169 442,166 445,174C448,182 442,194 441,207C439,221 438,239 438,255C438,270 439,287 441,302C442,317 442,336 445,345C449,353 458,353 460,355M445,174C450,173 464,166 474,169C483,173 498,190 503,194M223,179C228,177 246,171 256,169C265,168 276,165 280,169C283,173 283,185 280,193C276,201 268,209 261,217C253,225 245,232 237,240C229,249 217,264 213,269M204,264C205,270 213,289 213,302C213,315 208,326 204,340C200,354 193,371 190,387C186,403 181,420 180,435C179,449 183,460 185,473C186,485 185,501 190,510C194,520 207,524 211,527M251,302C257,302 276,298 284,300C292,301 291,308 298,309C306,310 326,307 332,307M351,297C349,304 345,325 341,340C337,355 329,379 327,387M374,398C379,398 396,399 403,397C409,394 409,387 412,383C415,378 416,374 422,368C427,362 441,349 445,346M407,397C407,405 403,428 403,444C403,460 406,477 407,492C409,506 412,524 413,530M460,458C462,463 470,483 476,484C482,486 494,471 497,468M476,484C475,490 472,515 471,521M166,326C172,324 197,318 204,316M134,463C138,462 153,457 161,458C169,460 178,471 181,473M450,596C452,602 456,630 464,634C473,637 492,618 502,615C512,611 522,613 526,612M497,321C501,324 513,338 516,341M417,89C425,88 456,83 464,82M298,817C302,819 309,828 317,831C326,835 339,838 351,838C362,839 378,833 388,834C399,834 403,837 412,841C421,845 430,853 441,857C451,862 463,865 474,867C484,869 493,869 502,869C511,869 523,867 527,867M317,838C315,842 308,854 306,860C303,866 302,872 301,875M90,831C92,829 101,820 104,818C108,816 111,820 112,820M104,822C107,827 112,841 118,850C125,860 134,870 142,879C150,887 161,894 168,900C175,906 179,911 182,917C186,922 184,929 187,936C191,942 195,950 204,954C212,959 226,962 237,964C248,966 261,964 270,964C280,964 283,965 294,966C304,968 319,971 332,973C344,975 358,977 370,978C381,979 389,976 398,978C407,981 413,986 422,992C430,999 440,1008 450,1016C460,1024 474,1033 483,1040C493,1046 500,1051 507,1054C514,1057 523,1058 527,1059M142,936C147,935 167,928 172,926M239,983C239,986 237,999 237,1003M199,978C198,982 193,993 194,1002C195,1011 198,1021 204,1030C209,1040 219,1051 227,1059C236,1067 246,1073 256,1078C265,1082 275,1084 284,1085C294,1086 303,1083 313,1082C322,1082 332,1078 341,1080C351,1082 360,1086 370,1092C379,1098 388,1108 398,1116C407,1123 415,1132 426,1139C437,1146 452,1154 464,1158C477,1163 492,1164 502,1165C513,1166 523,1163 527,1163M284,1085C285,1087 290,1095 289,1101C288,1107 285,1116 280,1120C274,1125 265,1128 256,1130C247,1132 236,1132 227,1132C219,1132 211,1131 204,1130C197,1129 191,1129 185,1125C178,1121 173,1115 166,1106C159,1097 148,1086 142,1073C136,1060 133,1045 128,1030C122,1015 116,997 109,983C102,969 90,952 86,946M204,1134C203,1138 200,1151 199,1154M175,1168C180,1169 193,1173 204,1177C214,1181 227,1190 237,1191C247,1193 259,1190 265,1187C272,1183 275,1178 276,1172C277,1167 271,1157 270,1154M265,1187C270,1191 283,1205 294,1215C305,1225 319,1240 332,1248C344,1256 355,1258 370,1262C384,1266 410,1271 418,1273M327,1203C331,1203 345,1202 351,1201C356,1200 355,1195 360,1196C365,1197 370,1201 379,1206C388,1210 403,1219 417,1224C431,1230 457,1235 465,1237M227,1187C227,1189 223,1199 223,1202M284,1210C289,1214 301,1227 313,1234C324,1241 345,1251 352,1254" fill="none" stroke="#bfae97" stroke-width="20" stroke-linecap="round" opacity=".5" filter="url(#sbl)"/>
<path d="M530,160C528,128 528,123 523,108C519,93 510,78 502,70C494,62 484,61 474,59C463,58 453,57 441,58C428,59 413,61 398,65C383,70 366,79 351,84C335,89 319,88 303,94C287,100 269,109 256,120C242,130 231,143 223,155C214,167 210,179 204,193C197,207 188,225 182,240C176,255 172,269 168,283C165,297 161,311 161,326C161,340 166,357 168,368C170,380 177,384 174,393C172,402 158,410 152,420C145,431 138,445 135,454C132,462 134,466 132,473C129,481 123,485 118,496C113,507 105,527 102,539C98,551 98,557 97,567C97,578 101,591 99,601C97,612 90,621 85,629C80,637 72,640 69,651C66,663 67,683 66,699C66,714 66,718 66,746C66,774 66,834 66,864C67,894 68,906 69,926C70,946 69,966 71,983C73,1000 77,1014 81,1030C85,1046 89,1062 95,1078C100,1093 107,1111 114,1125C120,1139 127,1151 135,1163C143,1175 150,1187 161,1196C172,1206 186,1213 199,1220C212,1227 224,1233 237,1239C250,1244 262,1248 275,1253C287,1258 299,1263 313,1267C326,1271 340,1274 355,1277C370,1279 387,1282 403,1284C418,1285 435,1286 450,1286C465,1286 481,1286 493,1284C505,1281 515,1279 521,1272C527,1265 529,1260 531,1243C532,1227 531,1224 532,1172C532,1121 532,1022 532,936C532,849 532,725 532,651C531,577 531,550 531,492C530,433 531,357 531,302C530,247 531,192 530,160Z" fill="none" stroke="#b7a58d" stroke-width="26" opacity=".55" filter="url(#sbl)"/>
<rect x="490" y="50" width="42" height="1250" fill="url(#med)"/>
</g>
<path d="M355,96C356,100 361,111 360,122C359,133 355,146 351,160C346,174 338,191 332,207C325,223 318,239 313,255C307,270 303,287 298,302C294,317 291,330 284,345C278,360 268,377 261,392C253,407 245,423 237,435C229,446 217,456 213,461M374,120C382,126 410,151 422,160C433,169 442,166 445,174C448,182 442,194 441,207C439,221 438,239 438,255C438,270 439,287 441,302C442,317 442,336 445,345C449,353 458,353 460,355M445,174C450,173 464,166 474,169C483,173 498,190 503,194M223,179C228,177 246,171 256,169C265,168 276,165 280,169C283,173 283,185 280,193C276,201 268,209 261,217C253,225 245,232 237,240C229,249 217,264 213,269M204,264C205,270 213,289 213,302C213,315 208,326 204,340C200,354 193,371 190,387C186,403 181,420 180,435C179,449 183,460 185,473C186,485 185,501 190,510C194,520 207,524 211,527M251,302C257,302 276,298 284,300C292,301 291,308 298,309C306,310 326,307 332,307M351,297C349,304 345,325 341,340C337,355 329,379 327,387M374,398C379,398 396,399 403,397C409,394 409,387 412,383C415,378 416,374 422,368C427,362 441,349 445,346M407,397C407,405 403,428 403,444C403,460 406,477 407,492C409,506 412,524 413,530M460,458C462,463 470,483 476,484C482,486 494,471 497,468M476,484C475,490 472,515 471,521M166,326C172,324 197,318 204,316M134,463C138,462 153,457 161,458C169,460 178,471 181,473M450,596C452,602 456,630 464,634C473,637 492,618 502,615C512,611 522,613 526,612M497,321C501,324 513,338 516,341M417,89C425,88 456,83 464,82M298,817C302,819 309,828 317,831C326,835 339,838 351,838C362,839 378,833 388,834C399,834 403,837 412,841C421,845 430,853 441,857C451,862 463,865 474,867C484,869 493,869 502,869C511,869 523,867 527,867M317,838C315,842 308,854 306,860C303,866 302,872 301,875M90,831C92,829 101,820 104,818C108,816 111,820 112,820M104,822C107,827 112,841 118,850C125,860 134,870 142,879C150,887 161,894 168,900C175,906 179,911 182,917C186,922 184,929 187,936C191,942 195,950 204,954C212,959 226,962 237,964C248,966 261,964 270,964C280,964 283,965 294,966C304,968 319,971 332,973C344,975 358,977 370,978C381,979 389,976 398,978C407,981 413,986 422,992C430,999 440,1008 450,1016C460,1024 474,1033 483,1040C493,1046 500,1051 507,1054C514,1057 523,1058 527,1059M142,936C147,935 167,928 172,926M239,983C239,986 237,999 237,1003M199,978C198,982 193,993 194,1002C195,1011 198,1021 204,1030C209,1040 219,1051 227,1059C236,1067 246,1073 256,1078C265,1082 275,1084 284,1085C294,1086 303,1083 313,1082C322,1082 332,1078 341,1080C351,1082 360,1086 370,1092C379,1098 388,1108 398,1116C407,1123 415,1132 426,1139C437,1146 452,1154 464,1158C477,1163 492,1164 502,1165C513,1166 523,1163 527,1163M284,1085C285,1087 290,1095 289,1101C288,1107 285,1116 280,1120C274,1125 265,1128 256,1130C247,1132 236,1132 227,1132C219,1132 211,1131 204,1130C197,1129 191,1129 185,1125C178,1121 173,1115 166,1106C159,1097 148,1086 142,1073C136,1060 133,1045 128,1030C122,1015 116,997 109,983C102,969 90,952 86,946M204,1134C203,1138 200,1151 199,1154M175,1168C180,1169 193,1173 204,1177C214,1181 227,1190 237,1191C247,1193 259,1190 265,1187C272,1183 275,1178 276,1172C277,1167 271,1157 270,1154M265,1187C270,1191 283,1205 294,1215C305,1225 319,1240 332,1248C344,1256 355,1258 370,1262C384,1266 410,1271 418,1273M327,1203C331,1203 345,1202 351,1201C356,1200 355,1195 360,1196C365,1197 370,1201 379,1206C388,1210 403,1219 417,1224C431,1230 457,1235 465,1237M227,1187C227,1189 223,1199 223,1202M284,1210C289,1214 301,1227 313,1234C324,1241 345,1251 352,1254" fill="none" stroke="#9f907d" stroke-width="5.6" stroke-linecap="round" stroke-linejoin="round"/>
<path d="M530,160C528,128 528,123 523,108C519,93 510,78 502,70C494,62 484,61 474,59C463,58 453,57 441,58C428,59 413,61 398,65C383,70 366,79 351,84C335,89 319,88 303,94C287,100 269,109 256,120C242,130 231,143 223,155C214,167 210,179 204,193C197,207 188,225 182,240C176,255 172,269 168,283C165,297 161,311 161,326C161,340 166,357 168,368C170,380 177,384 174,393C172,402 158,410 152,420C145,431 138,445 135,454C132,462 134,466 132,473C129,481 123,485 118,496C113,507 105,527 102,539C98,551 98,557 97,567C97,578 101,591 99,601C97,612 90,621 85,629C80,637 72,640 69,651C66,663 67,683 66,699C66,714 66,718 66,746C66,774 66,834 66,864C67,894 68,906 69,926C70,946 69,966 71,983C73,1000 77,1014 81,1030C85,1046 89,1062 95,1078C100,1093 107,1111 114,1125C120,1139 127,1151 135,1163C143,1175 150,1187 161,1196C172,1206 186,1213 199,1220C212,1227 224,1233 237,1239C250,1244 262,1248 275,1253C287,1258 299,1263 313,1267C326,1271 340,1274 355,1277C370,1279 387,1282 403,1284C418,1285 435,1286 450,1286C465,1286 481,1286 493,1284C505,1281 515,1279 521,1272C527,1265 529,1260 531,1243C532,1227 531,1224 532,1172C532,1121 532,1022 532,936C532,849 532,725 532,651C531,577 531,550 531,492C530,433 531,357 531,302C530,247 531,192 530,160Z" fill="none" stroke="#a29380" stroke-width="6.5" stroke-linejoin="round"/>
</g>
</defs>
<g id="brains">
<use href="#hemi" transform="translate(570.0,355) scale(0.16889)"/><use href="#hemi" transform="translate(570.0,355) scale(0.16889) translate(1080,0) scale(-1,1)"/>
<use href="#hemi" transform="translate(839.5,355) scale(0.16889)"/><use href="#hemi" transform="translate(839.5,355) scale(0.16889) translate(1080,0) scale(-1,1)"/>
<g transform="translate(570,355) scale(0.16889)">
<path d="M270,503C285,504 315,512 330,520C345,528 350,544 362,548C374,552 395,541 402,546C409,551 408,567 406,580C404,593 392,608 388,622C384,636 388,644 380,662C372,680 352,708 342,730C332,752 339,772 322,792C305,812 262,839 242,850C222,861 213,865 200,860C187,855 171,843 163,822C155,801 154,760 153,732C152,704 152,674 158,652C164,630 179,618 188,600C197,582 205,559 214,545C223,531 231,522 240,515C249,508 255,502 270,503Z" fill="#8d1a8a"/>
<path d="M270,518C283,519 310,525 325,532C340,539 347,555 358,560C369,565 386,556 392,560C398,564 395,572 392,582C389,592 378,609 374,622C370,635 373,643 366,660C359,677 339,705 330,725C321,745 325,762 310,780C295,798 256,825 238,836C220,847 214,848 203,845C192,842 181,834 175,815C169,796 167,758 166,732C165,706 166,677 171,656C176,635 189,625 198,608C207,591 216,570 224,556C232,542 238,533 246,527C254,521 257,517 270,518Z" fill="#e30614"/>
<path d="M262,562C272,565 291,577 300,590C309,603 318,620 318,640C318,660 309,688 300,710C291,732 277,756 262,770C247,784 223,796 210,792C197,788 188,764 185,745C182,726 185,702 190,680C195,658 207,628 215,610C223,592 232,580 240,572C248,564 252,559 262,562Z" fill="#f49400"/>
<path d="M262,575C270,578 285,588 292,600C299,612 305,628 305,645C305,662 298,687 290,705C282,723 268,743 255,752C242,761 225,763 215,758C205,753 198,734 196,720C194,706 196,692 200,675C204,658 215,635 222,620C229,605 237,592 244,585C251,578 254,572 262,575Z" fill="#ffee00"/>
<path d="M265,590C271,589 280,602 284,612C288,622 289,637 288,650C287,663 282,683 278,690C274,697 266,697 262,692C258,687 254,672 252,660C250,648 248,632 250,620C252,608 259,591 265,590Z" fill="#58b031"/>
<path d="M205,686C210,681 224,686 232,690C240,694 248,704 250,712C252,720 247,734 242,740C237,746 229,748 222,745C215,742 205,732 202,722C199,712 200,691 205,686Z" fill="#58b031"/>
<path d="M845,513C853,513 864,527 870,540C876,553 875,575 882,592C889,609 906,622 912,640C918,658 914,675 917,700C920,725 929,766 927,790C925,814 918,831 907,842C896,853 874,859 860,857C846,855 834,846 825,832C816,818 811,790 805,770C799,750 795,729 790,710C785,691 772,673 773,655C774,637 790,619 798,600C806,581 812,554 820,540C828,526 837,513 845,513Z" fill="#8d1a8a"/>
<path d="M846,530C852,530 859,540 864,552C869,564 868,584 874,600C880,616 897,629 902,646C907,663 904,678 906,702C908,726 915,766 914,788C913,810 907,823 898,832C889,841 871,846 860,844C849,842 840,835 832,822C824,809 820,785 815,766C810,747 805,724 800,706C795,688 785,673 786,656C787,639 801,623 808,606C815,589 822,565 828,552C834,539 840,530 846,530Z" fill="#e30614"/>
<path d="M850,630C858,632 873,645 880,660C887,675 888,698 892,720C896,742 904,773 902,790C900,807 889,818 880,820C871,822 858,817 850,805C842,793 837,769 832,750C827,731 822,708 822,690C822,672 825,655 830,645C835,635 842,628 850,630Z" fill="#f49400"/>
<path d="M855,640C860,642 868,652 872,665C876,678 877,702 876,715C875,728 870,742 866,745C862,748 854,739 850,730C846,721 843,702 842,690C841,678 843,663 845,655C847,647 850,638 855,640Z" fill="#ffee00"/>
<path d="M870,755C876,755 886,763 890,770C894,777 895,789 892,795C889,801 880,808 874,808C868,808 859,801 856,795C853,789 853,777 855,770C857,763 864,755 870,755Z" fill="#ffee00"/>
<circle cx="872" cy="785" r="7" fill="#58b031"/>
</g>
<g transform="translate(838,355) scale(0.16889)">
<path d="M235,513C246,508 258,517 266,530C274,543 278,565 280,590C282,615 281,651 277,680C273,709 266,740 257,762C248,784 234,795 222,812C210,829 192,851 182,862C172,873 168,879 160,877C152,875 142,864 133,852C124,840 113,817 108,802C103,787 100,780 103,760C106,740 119,703 128,680C137,657 146,640 158,620C170,600 185,578 198,560C211,542 224,518 235,513Z" fill="#8d1a8a"/>
<path d="M236,528C244,524 251,534 256,545C261,556 266,573 268,595C270,617 269,651 265,678C261,705 255,734 246,755C237,776 224,786 213,802C202,818 187,838 178,848C169,858 166,861 160,860C154,859 149,852 142,842C135,832 124,811 120,798C116,785 113,781 116,762C119,743 131,708 140,686C149,664 157,647 168,628C179,609 194,587 205,570C216,553 228,532 236,528Z" fill="#e30614"/>
<path d="M232,570C238,573 246,592 248,610C250,628 249,658 245,680C241,702 234,722 225,740C216,758 201,779 190,790C179,801 167,808 158,805C149,802 139,789 138,775C137,761 143,741 150,720C157,699 168,672 178,650C188,628 201,603 210,590C219,577 226,567 232,570Z" fill="#f49400"/>
<path d="M225,592C231,593 236,614 238,630C240,646 239,668 235,685C231,702 222,723 215,735C208,747 197,756 190,755C183,754 173,742 172,730C171,718 177,698 182,680C187,662 195,640 202,625C209,610 219,591 225,592Z" fill="#ffee00"/>
<path d="M222,622C226,620 229,639 229,650C229,661 227,679 224,690C221,701 214,716 210,718C206,720 201,710 200,700C199,690 200,673 204,660C208,647 218,624 222,622Z" fill="#58b031"/>
<ellipse cx="157" cy="765" rx="13" ry="12" fill="#ffee00"/>
<path d="M810,508C820,506 840,511 852,518C864,525 875,533 882,550C889,567 886,595 892,620C898,645 914,672 917,700C920,728 918,765 912,790C906,815 894,840 882,852C870,864 853,865 840,862C827,859 812,846 803,832C794,818 787,799 783,780C779,761 776,740 778,720C780,700 793,682 794,660C795,638 783,612 783,590C783,568 788,544 793,530C798,516 800,510 810,508Z" fill="#8d1a8a"/>
<path d="M812,522C819,521 838,526 848,532C858,538 865,543 870,558C875,573 874,600 880,624C886,648 901,675 904,702C907,729 905,763 900,786C895,809 884,830 874,840C864,850 852,851 842,848C832,845 820,834 812,822C804,810 799,793 795,776C791,759 788,741 790,722C792,703 805,682 806,660C807,638 796,612 796,592C796,572 801,552 804,540C807,528 805,523 812,522Z" fill="#e30614"/>
<path d="M820,575C827,569 843,574 850,585C857,596 855,624 862,640C869,656 884,666 890,680C896,694 898,712 895,725C892,738 877,748 870,760C863,772 862,793 855,800C848,807 836,807 830,800C824,793 821,774 822,760C823,746 835,730 835,715C835,700 826,686 822,670C818,654 810,636 810,620C810,604 813,581 820,575Z" fill="#f49400"/>
<path d="M818,598C822,594 835,593 840,600C845,607 850,629 850,640C850,651 845,663 840,665C835,667 826,657 822,650C818,643 815,631 814,622C813,613 814,602 818,598Z" fill="#ffee00"/>
<path d="M852,680C858,677 872,680 878,685C884,690 889,702 888,710C887,718 878,732 872,735C866,738 856,733 852,728C848,723 845,713 845,705C845,697 846,683 852,680Z" fill="#ffee00"/>
<path d="M838,650C842,655 854,682 856,690C858,698 852,705 848,700C844,695 832,668 830,660C828,652 834,645 838,650Z" fill="#ffee00"/>
<circle cx="870" cy="704" r="7" fill="#58b031"/>
</g>
</g>
<g id="brainlabels">
<defs>
<linearGradient id="cscale" x1="0" y1="0" x2="0" y2="1">
<stop offset="0" stop-color="#2fa336"/><stop offset=".1" stop-color="#8cc21f"/><stop offset=".2" stop-color="#fff000"/><stop offset=".3" stop-color="#ffe100"/><stop offset=".4" stop-color="#f07d00"/><stop offset=".48" stop-color="#e30613"/><stop offset=".62" stop-color="#e2001a"/><stop offset=".78" stop-color="#8a1c86"/><stop offset=".9" stop-color="#3e2a8c"/><stop offset="1" stop-color="#1d2a86"/>
</linearGradient>
<filter id="btsh" x="-10%" y="-20%" width="120%" height="150%"><feDropShadow dx=".6" dy="1.4" stdDeviation=".9" flood-color="#000" flood-opacity=".3"/></filter>
</defs>
<line x1="776.8" y1="375.2" x2="776.8" y2="613.2" stroke="#b3cad8" stroke-width="1.4"/>
<g font-size="15" fill="#111" stroke="#111" stroke-width=".35">
<text x="527.7" y="409.7" textLength="49.3" lengthAdjust="spacingAndGlyphs">Gauche</text>
<text x="808.1" y="409.7" textLength="49" lengthAdjust="spacingAndGlyphs">Gauche</text>
</g>
<rect x="499.6" y="565.2" width="20.6" height="44" fill="url(#cscale)" stroke="#222" stroke-width=".8"/>
<path d="M520.4,565H524.4M520.4,609.4H524.4" stroke="#222" stroke-width=".9" fill="none"/>
<g font-size="14" fill="#111">
<text x="529.2" y="561.1" textLength="25" lengthAdjust="spacingAndGlyphs">Forte</text>
<text x="529.2" y="574.8" textLength="48.8" lengthAdjust="spacingAndGlyphs">activation</text>
<text x="529.2" y="607.5" textLength="28.3" lengthAdjust="spacingAndGlyphs">Faible</text>
<text x="529.2" y="620.6" textLength="48.8" lengthAdjust="spacingAndGlyphs">activation</text>
</g>
<rect x="625.4" y="596.3" width="75.8" height="24.9" rx="6" fill="#1da7c6" filter="url(#btsh)"/>
<rect x="894.9" y="596" width="75.6" height="25.4" rx="6" fill="#1da7c6" filter="url(#btsh)"/>
<g font-size="15.2" font-weight="bold" fill="#fff">
<text x="631.8" y="613.9" textLength="58.3" lengthAdjust="spacingAndGlyphs">Contrôle</text>
<text x="904" y="613.7" textLength="57.1" lengthAdjust="spacingAndGlyphs">Pianiste</text>
</g>
</g>
</svg>
</body>
</html>
